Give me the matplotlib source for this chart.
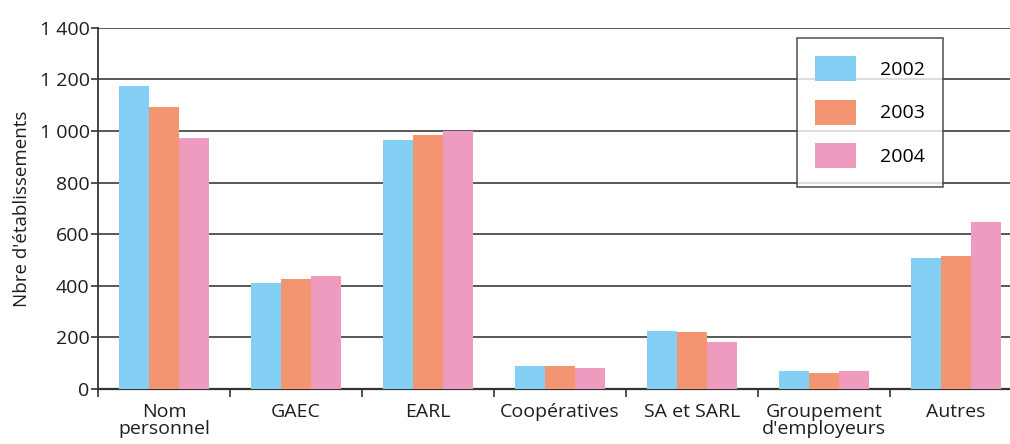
import matplotlib
matplotlib.use("Agg")
import matplotlib.pyplot as plt
import numpy as np
from matplotlib.patches import Patch

categories = ["Nom\npersonnel", "GAEC", "EARL", "Coopératives", "SA et SARL",
              "Groupement\nd'employeurs", "Autres"]
years = ["2002", "2003", "2004"]
v2002 = [1175, 412, 965, 88, 226, 71, 509]
v2003 = [1091, 425, 984, 88, 220, 63, 516]
v2004 = [972, 437, 1000, 83, 183, 71, 648]
yticks = [0, 200, 400, 600, 800, 1000, 1200, 1400]
ytick_labels = ["0", "200", "400", "600", "800", "1 000", "1 200", "1 400"]
colors = ["#82CFF3", "#F29570", "#EF9BC0"]

plt.rcParams['font.family'] = ['Open Sans', 'DejaVu Sans']

fig = plt.figure(figsize=(10.10, 4.44), dpi=100)
W, H = 1010, 444
x0, x1 = 98, 1022
y0, y1 = 389, 27.7
ax = fig.add_axes([x0 / W, 1 - y0 / H, (x1 - x0) / W, (y0 - y1) / H])

x = np.arange(len(categories))
bw = 0.225
series = [v2002, v2003, v2004]
for i, (vals, c) in enumerate(zip(series, colors)):
    ax.bar(x + (i - 1) * bw, vals, width=bw, color=c, zorder=3, linewidth=0)

ax.set_xlim(-0.5, len(categories) - 0.5)
ax.set_ylim(0, 1400)
ax.set_yticks(yticks)
ax.set_yticklabels(ytick_labels)
for yv in yticks[1:]:
    ax.axhline(yv, color="#4a4a4a", lw=1.3, zorder=1)

ax.set_xticks(x)
ax.set_xticklabels(categories, linespacing=0.92)
ax.set_xticks(np.arange(len(categories) + 1) - 0.5, minor=True)
ax.tick_params(axis='x', which='major', length=0, pad=10, labelsize=14, colors="#1e1e1e")
ax.tick_params(axis='x', which='minor', length=6, width=1.2, direction='out', color="#333333")
ax.tick_params(axis='y', length=5, width=1.2, pad=1, labelsize=14, colors="#1e1e1e")
ax.tick_params(axis='y', color="#333333")

for s in ["top", "right"]:
    ax.spines[s].set_visible(False)
ax.spines["left"].set_color("#333333")
ax.spines["left"].set_linewidth(1.3)
ax.spines["bottom"].set_color("#333333")
ax.spines["bottom"].set_linewidth(1.6)

ax.set_ylabel("Nbre d'établissements", fontsize=13.5, color="#1e1e1e", labelpad=6)

handles = [Patch(facecolor=c, edgecolor='none') for c in colors]
leg = ax.legend(handles, years, loc='upper left',
                bbox_to_anchor=((797 - x0) / (x1 - x0), (y0 - 37.7) / (y0 - y1)),
                frameon=True, fancybox=False, fontsize=14,
                handlelength=2.1, handleheight=1.6, handletextpad=1.2,
                labelspacing=0.95, borderpad=0.95, borderaxespad=0)
leg.get_frame().set_edgecolor("#333333")
leg.get_frame().set_linewidth(1.2)
leg.set_zorder(5)

fig.savefig("out.png", dpi=100)
